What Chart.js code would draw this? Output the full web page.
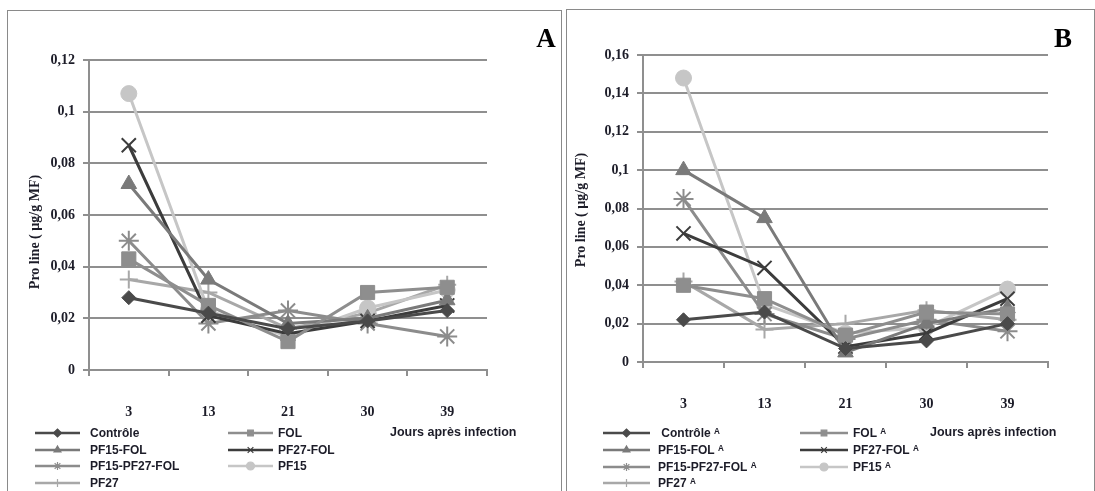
<!DOCTYPE html>
<html>
<head>
<meta charset="utf-8">
<script src="https://cdn.jsdelivr.net/npm/chart.js@4.4.0/dist/chart.umd.min.js"></script>
<style>
  body { margin: 0; background: #fff; width: 1095px; height: 491px; overflow: hidden; position: relative; }
  .frame { position: absolute; border: 1px solid #8a8a8a; border-bottom: none; }
  canvas { position: absolute; top: 0; }
</style>
</head>
<body>
<div class="frame" style="left:7px;top:10px;width:553px;height:500px"></div>
<div class="frame" style="left:566px;top:9px;width:527px;height:500px"></div>
<canvas id="chartA" width="560" height="491" style="left:0"></canvas>
<canvas id="chartB" width="535" height="491" style="left:560px"></canvas>
<script>
// ─── data ────────────────────────────────────────────────────────────────────
const DAYS = ['3', '13', '21', '30', '39'];
const NAMES_A = ['Contrôle', 'FOL', 'PF15-FOL', 'PF27-FOL', 'PF15-PF27-FOL', 'PF15', 'PF27'];
const NAMES_B = [' Contrôle ᴬ', 'FOL ᴬ', 'PF15-FOL ᴬ', 'PF27-FOL ᴬ', 'PF15-PF27-FOL ᴬ', 'PF15 ᴬ', 'PF27 ᴬ'];

// panel A (proline µg/g MF)
const A_CONTROLE      = [0.028, 0.022, 0.016, 0.019, 0.023];
const A_FOL           = [0.043, 0.025, 0.011, 0.030, 0.032];
const A_PF15_FOL      = [0.072, 0.035, 0.018, 0.020, 0.027];
const A_PF27_FOL      = [0.087, 0.021, 0.014, 0.019, 0.025];
const A_PF15_PF27_FOL = [0.050, 0.018, 0.023, 0.018, 0.013];
const A_PF15          = [0.107, 0.023, 0.013, 0.024, 0.031];
const A_PF27          = [0.035, 0.030, 0.016, 0.022, 0.033];

// panel B
const B_CONTROLE      = [0.022, 0.026, 0.007, 0.011, 0.020];
const B_FOL           = [0.040, 0.033, 0.014, 0.026, 0.025];
const B_PF15_FOL      = [0.100, 0.075, 0.005, 0.020, 0.028];
const B_PF27_FOL      = [0.067, 0.049, 0.008, 0.015, 0.033];
const B_PF15_PF27_FOL = [0.085, 0.025, 0.012, 0.022, 0.016];
const B_PF15          = [0.148, 0.030, 0.015, 0.018, 0.038];
const B_PF27          = [0.042, 0.017, 0.020, 0.027, 0.022];

const Y_MAX_A = 0.12;
const Y_MAX_B = 0.16;
const Y_STEP = 0.02;

// ─── styles (same order as the series) ───────────────────────────────────────
const STYLES = [
  { color: '#4a4a4a', shape: 'rectRot',  r: 7,  bw: 1 },
  { color: '#8e8e8e', shape: 'rect',     r: 10, bw: 1 },
  { color: '#7a7a7a', shape: 'triangle', r: 9,  bw: 1 },
  { color: '#3c3c3c', shape: 'crossRot', r: 10, bw: 2 },
  { color: '#8c8c8c', shape: 'star',     r: 10, bw: 2 },
  { color: '#c6c6c6', shape: 'circle',   r: 8,  bw: 1 },
  { color: '#a8a8a8', shape: 'cross',    r: 9,  bw: 2 },
];

const GRID = '#8f8f8f';
const TXT = '#1c1c28';
const SERIF = "'Liberation Serif', 'Times New Roman', serif";
const SANS = "'Liberation Sans', Arial, sans-serif";
const fmt = v => String(+v.toFixed(2)).replace('.', ',');

// ─── decorations: y title, panel letter, legend ──────────────────────────────
const decor = {
  id: 'decor',
  afterDraw(chart, args, o) {
    const ctx = chart.ctx;
    ctx.save();
    // y title
    ctx.fillStyle = TXT;
    ctx.font = 'bold 14px ' + SERIF;
    ctx.textAlign = 'center';
    ctx.textBaseline = 'middle';
    ctx.translate(o.titleX, o.titleY);
    ctx.rotate(-Math.PI / 2);
    ctx.fillText('Pro line ( µg/g MF)', 0, 0);
    ctx.setTransform(1, 0, 0, 1, 0, 0);
    // panel letter
    ctx.fillStyle = '#000';
    ctx.font = 'bold 27px ' + SERIF;
    ctx.fillText(o.letter, o.letterX, o.letterY);
    // legend
    ctx.font = 'bold 12px ' + SANS;
    ctx.textAlign = 'left';
    chart.data.datasets.forEach((ds, i) => {
      const col = i % 2, row = Math.floor(i / 2);
      const [x0, x1] = o.legLines[col];
      const y = o.legRows[row];
      const st = STYLES[i];
      ctx.strokeStyle = st.color;
      ctx.fillStyle = st.color;
      ctx.lineWidth = 2.5;
      ctx.beginPath();
      ctx.moveTo(x0, y);
      ctx.lineTo(x1, y);
      ctx.stroke();
      ctx.lineWidth = 1.2;
      Chart.helpers.drawPoint(ctx, { pointStyle: st.shape, radius: 4, rotation: 0, borderWidth: 1.2 }, (x0 + x1) / 2, y);
      ctx.fillStyle = TXT;
      ctx.fillText(ds.label, o.legText[col], y + 1);
    });
    ctx.font = 'bold 12.5px ' + SANS;
    ctx.fillText('Jours après infection', o.joursX, o.legRows[0]);
    ctx.restore();
  },
};

function makeChart(id, names, series, yMax, L) {
  return new Chart(document.getElementById(id), {
    type: 'line',
    data: {
      labels: DAYS,
      datasets: series.map((vals, i) => ({
        label: names[i],
        data: vals,
        borderColor: STYLES[i].color,
        backgroundColor: STYLES[i].color,
        borderWidth: 3,
        pointStyle: STYLES[i].shape,
        pointRadius: STYLES[i].r,
        pointBorderWidth: STYLES[i].bw,
        pointBackgroundColor: STYLES[i].color,
        pointBorderColor: STYLES[i].color,
        tension: 0,
      })),
    },
    options: {
      responsive: false, animation: false,
      layout: { padding: { left: 0, right: L.padRight, top: L.padTop, bottom: 0 } },
      plugins: { legend: { display: false }, tooltip: { enabled: false }, decor: L },
      scales: {
        x: {
          offset: true,
          grid: { offset: true, drawOnChartArea: false, color: GRID, lineWidth: 2, tickLength: 6 },
          border: { color: GRID, width: 2 },
          ticks: { color: TXT, padding: 28, font: { family: SERIF, size: 14, weight: 'bold' } },
          afterFit: s => { s.height = L.xHeight; },
        },
        y: {
          min: 0, max: yMax,
          grid: { color: GRID, lineWidth: 2, tickLength: 6 },
          border: { color: GRID, width: 2 },
          ticks: { stepSize: Y_STEP, color: TXT, padding: 8, callback: v => fmt(v), font: { family: SERIF, size: 14, weight: 'bold' } },
          afterFit: s => { s.width = L.yWidth; },
        },
      },
    },
    plugins: [decor],
  });
}

makeChart('chartA', NAMES_A,
  [A_CONTROLE, A_FOL, A_PF15_FOL, A_PF27_FOL, A_PF15_PF27_FOL, A_PF15, A_PF27], Y_MAX_A, {
    padRight: 73, padTop: 60, xHeight: 121, yWidth: 89,
    titleX: 35, titleY: 232, letter: 'A', letterX: 546, letterY: 40,
    legLines: [[35, 80], [228, 273]], legText: [90, 278], legRows: [433, 450, 466, 483], joursX: 390,
  });

makeChart('chartB', NAMES_B,
  [B_CONTROLE, B_FOL, B_PF15_FOL, B_PF27_FOL, B_PF15_PF27_FOL, B_PF15, B_PF27], Y_MAX_B, {
    padRight: 47, padTop: 55, xHeight: 129, yWidth: 83,
    titleX: 21, titleY: 210, letter: 'B', letterX: 503, letterY: 40,
    legLines: [[43, 90], [240, 288]], legText: [98, 293], legRows: [433, 450, 467, 483], joursX: 370,
  });
</script>
</body>
</html>
